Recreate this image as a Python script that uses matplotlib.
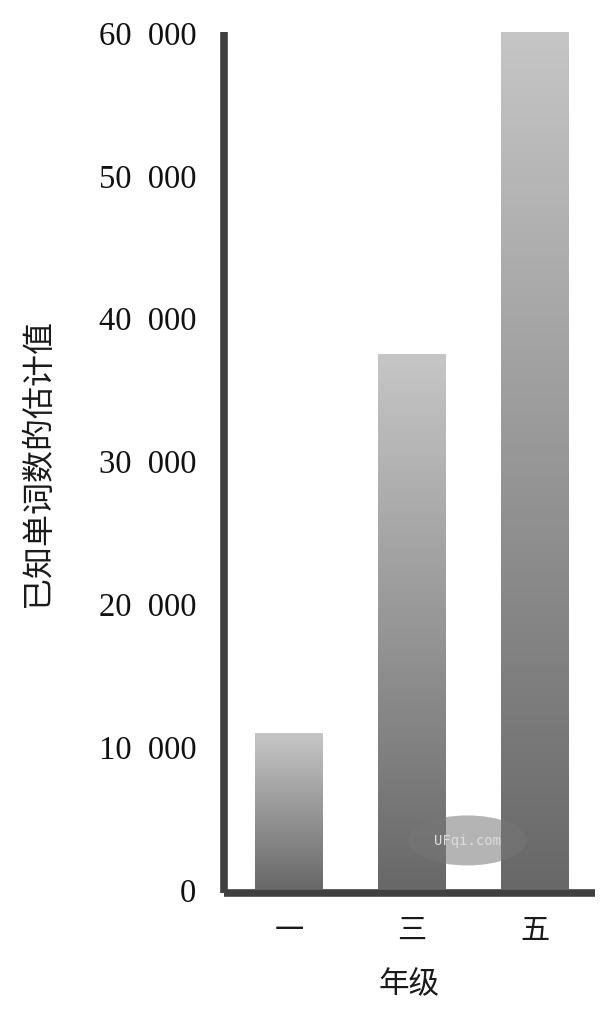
import numpy as np
import matplotlib.pyplot as plt
from matplotlib.colors import LinearSegmentedColormap
from matplotlib.patches import Ellipse

plt.rcParams['font.family'] = ['Noto Sans CJK SC', 'DejaVu Sans']

# data
grades = ['一', '三', '五']
words = [10900, 37400, 60000]
yticks = [0, 10000, 20000, 30000, 40000, 50000, 60000]
ytick_labels = ['0', '10  000', '20  000', '30  000', '40  000', '50  000', '60  000']

fig = plt.figure(figsize=(6.16, 10.12), dpi=100)
ax = fig.add_axes([224/616, (1012-894)/1012, (595-224)/616, (894-33)/1012])

cmap = LinearSegmentedColormap.from_list('g', ['#686868', '#c6c6c6'])
grad = np.linspace(0, 1, 256).reshape(-1, 1)
w = 0.55
x = np.arange(len(grades))
for xi, v in zip(x, words):
    ax.imshow(grad, cmap=cmap, aspect='auto', origin='lower',
              extent=[xi - w/2, xi + w/2, 0, v], zorder=2)

ax.set_xlim(-0.53, 2.49)
ax.set_ylim(-280, 60000)

for s in ['top', 'right']:
    ax.spines[s].set_visible(False)
for s in ['left', 'bottom']:
    ax.spines[s].set_linewidth(5.5)
    ax.spines[s].set_color('#404040')
    ax.spines[s].set_zorder(5)
    ax.spines[s].set_capstyle('butt')

ax.set_yticks(yticks)
ax.set_yticklabels(ytick_labels, fontfamily='Liberation Serif', fontsize=23.5, color='#111111')
ax.set_xticks(x)
ax.set_xticklabels(grades, fontsize=21, fontweight='light', color='#1a1a1a')
ax.tick_params(axis='both', length=0)
ax.tick_params(axis='y', pad=20)
ax.tick_params(axis='x', pad=16)

ax.set_xlabel('年级', fontsize=22, labelpad=16, color='#1a1a1a')
ax.set_ylabel('已知单词数的估计值', fontsize=23, labelpad=32, color='#1a1a1a')

# watermark
ell = Ellipse((1.45, 3400), 0.97, 3500, facecolor='#777777', edgecolor='none', alpha=0.55, zorder=4)
ax.add_patch(ell)
ax.text(1.45, 3400, 'UFqi.com', fontfamily='DejaVu Sans Mono', fontsize=10,
        color='#dddddd', ha='center', va='center', zorder=6)

fig.savefig('out.png', dpi=100)
